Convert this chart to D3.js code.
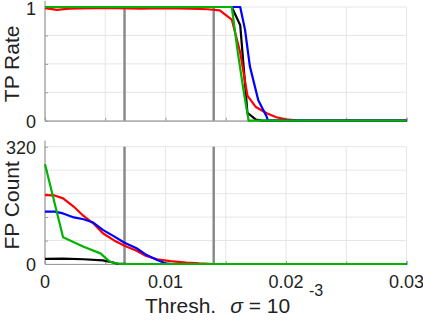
<!DOCTYPE html>
<html>
<head>
<meta charset="utf-8">
<script src="https://cdn.jsdelivr.net/npm/d3@7"></script>
<style>
  body { margin: 0; background: #fff; }
  svg { display: block; font-family: "Liberation Sans", Arial, sans-serif; }
</style>
</head>
<body>
<script>
// thresholds in data units
const xTicks = [0, 0.005, 0.01, 0.015, 0.02, 0.025, 0.03];
const xLabels = [0, 0.01, 0.02, 0.03];
const tpTicks = [0, 0.25, 0.5, 0.75, 1];
const tpLabels = [0, 1];
const fpTicks = [0, 64, 128, 192, 256, 320];
const fpLabels = [0, 320];
const markers = [0.0066, 0.014];

const tpBlack = [[0,1],[0.0155,1],[0.0162,0.84],[0.0168,0.07],[0.0175,0.01],[0.018,0],[0.03,0]];
const tpRed = [[0,0.99],[0.001,0.975],[0.002,0.985],[0.004,0.99],[0.006,0.99],[0.008,0.985],[0.01,0.99],
  [0.012,0.985],[0.0135,0.98],[0.0145,0.97],[0.0155,0.89],[0.0162,0.6],[0.0168,0.22],[0.0175,0.12],
  [0.0184,0.065],[0.0192,0.03],[0.02,0.012],[0.021,0],[0.03,0]];
const tpBlue = [[0,1],[0.0162,1],[0.0166,0.8],[0.017,0.48],[0.0177,0.18],[0.0184,0.035],[0.0185,0],[0.03,0]];
const tpGreen = [[0,1],[0.0155,1],[0.016,0.6],[0.0165,0.25],[0.0169,0],[0.03,0]];

const fpBlack = [[0,14],[0.0015,14.5],[0.0032,13],[0.0048,10],[0.0054,6],[0.006,1],[0.007,0],[0.03,0]];
const fpRed = [[0,188],[0.0008,187],[0.0015,179],[0.0024,156],[0.0032,131],[0.004,111],[0.0048,84],
  [0.0057,65],[0.0066,50],[0.0076,36],[0.0084,22],[0.0093,13],[0.0104,8],[0.0117,4],[0.0128,1.5],[0.014,0],[0.03,0]];
const fpBlue = [[0,143],[0.0008,143],[0.0015,138],[0.0024,127],[0.0032,122],[0.004,113],[0.0048,93],
  [0.0057,76],[0.0066,58],[0.0076,43],[0.0084,25],[0.0093,11],[0.01,2],[0.0105,0],[0.03,0]];
const fpGreen = [[0,272],[0.0015,73],[0.0032,47],[0.0046,29],[0.0054,6],[0.0062,0],[0.03,0]];

const colors = { black: "#000000", red: "#ff0000", blue: "#0000ff", green: "#00b400" };

const svg = d3.select("body").append("svg")
  .attr("width", 423)
  .attr("height", 324);

const x = d3.scaleLinear().domain([0, 0.03]).range([45, 406.5]);

function panel(y, yTicks, yLabels, yMax, series, showX, ylabel) {
  const g = svg.append("g");
  const top = y(yMax), bottom = y(0);

  // grid
  g.selectAll(".vg").data(xTicks).enter().append("line")
    .attr("x1", d => x(d)).attr("x2", d => x(d))
    .attr("y1", top).attr("y2", bottom)
    .attr("stroke", "#e6e6e6").attr("stroke-width", 1);
  g.selectAll(".hg").data(yTicks).enter().append("line")
    .attr("x1", x(0)).attr("x2", x(0.03))
    .attr("y1", d => y(d)).attr("y2", d => y(d))
    .attr("stroke", "#e6e6e6").attr("stroke-width", 1);

  // axes with inward ticks
  const yAxis = d3.axisLeft(y).tickValues(yTicks).tickSize(-3).tickFormat("");
  const yG = g.append("g").attr("transform", `translate(${x(0)},0)`).call(yAxis);
  const xAxis = d3.axisBottom(x).tickValues(xTicks).tickSize(-3).tickFormat("");
  const xG = g.append("g").attr("transform", `translate(0,${bottom})`).call(xAxis);
  [yG, xG].forEach(a => {
    a.select(".domain").attr("stroke", "#9a9a9a").attr("stroke-width", 1.2);
    a.selectAll(".tick line").attr("stroke", "#9a9a9a");
  });
  yG.select(".domain").attr("d", `M0,${top - 6}V${bottom}`);

  // tick labels
  g.selectAll(".yl").data(yLabels).enter().append("text")
    .attr("x", 36).attr("y", d => Math.max(y(d) + 7, 15))
    .attr("text-anchor", "end").attr("font-size", 18).attr("fill", "#222")
    .text(d => d);
  if (showX) {
    g.selectAll(".xl").data(xLabels).enter().append("text")
      .attr("x", d => x(d)).attr("y", bottom + 24)
      .attr("text-anchor", "middle").attr("font-size", 18).attr("fill", "#222")
      .text(d => d);
  }

  // threshold markers
  g.selectAll(".mk").data(markers).enter().append("line")
    .attr("x1", d => x(d)).attr("x2", d => x(d))
    .attr("y1", y(yTicks[yTicks.length - 1])).attr("y2", bottom)
    .attr("stroke", "#8a8a8a").attr("stroke-width", 2.5);

  const line = d3.line().x(d => x(d[0])).y(d => y(d[1]));
  series.forEach(s => {
    g.append("path").datum(s.data)
      .attr("fill", "none").attr("stroke", s.color)
      .attr("stroke-width", 2.2).attr("stroke-linejoin", "round")
      .attr("d", line);
  });

  g.append("text")
    .attr("transform", `translate(19,${(top + bottom) / 2}) rotate(-90)`)
    .attr("text-anchor", "middle").attr("font-size", 21).attr("fill", "#222")
    .text(ylabel);
}

const yTop = d3.scaleLinear().domain([0, 1]).range([120.7, 7]);
panel(yTop, tpTicks, tpLabels, 1, [
  { data: tpBlack, color: colors.black },
  { data: tpRed, color: colors.red },
  { data: tpBlue, color: colors.blue },
  { data: tpGreen, color: colors.green }
], false, "TP Rate");

const yBot = d3.scaleLinear().domain([0, 320]).range([264, 146.7]);
panel(yBot, fpTicks, fpLabels, 320, [
  { data: fpBlack, color: colors.black },
  { data: fpRed, color: colors.red },
  { data: fpBlue, color: colors.blue },
  { data: fpGreen, color: colors.green }
], true, "FP Count");

// x axis title
const xt = svg.append("text")
  .attr("x", 145).attr("y", 313)
  .attr("font-size", 21).attr("fill", "#222");
xt.append("tspan").text("Thresh.");
xt.append("tspan").attr("dx", 14).attr("font-style", "italic").text("σ");
xt.append("tspan").text(" = 10");
svg.append("text")
  .attr("x", 309).attr("y", 296)
  .attr("font-size", 16).attr("fill", "#222")
  .text("-3");
</script>
</body>
</html>
